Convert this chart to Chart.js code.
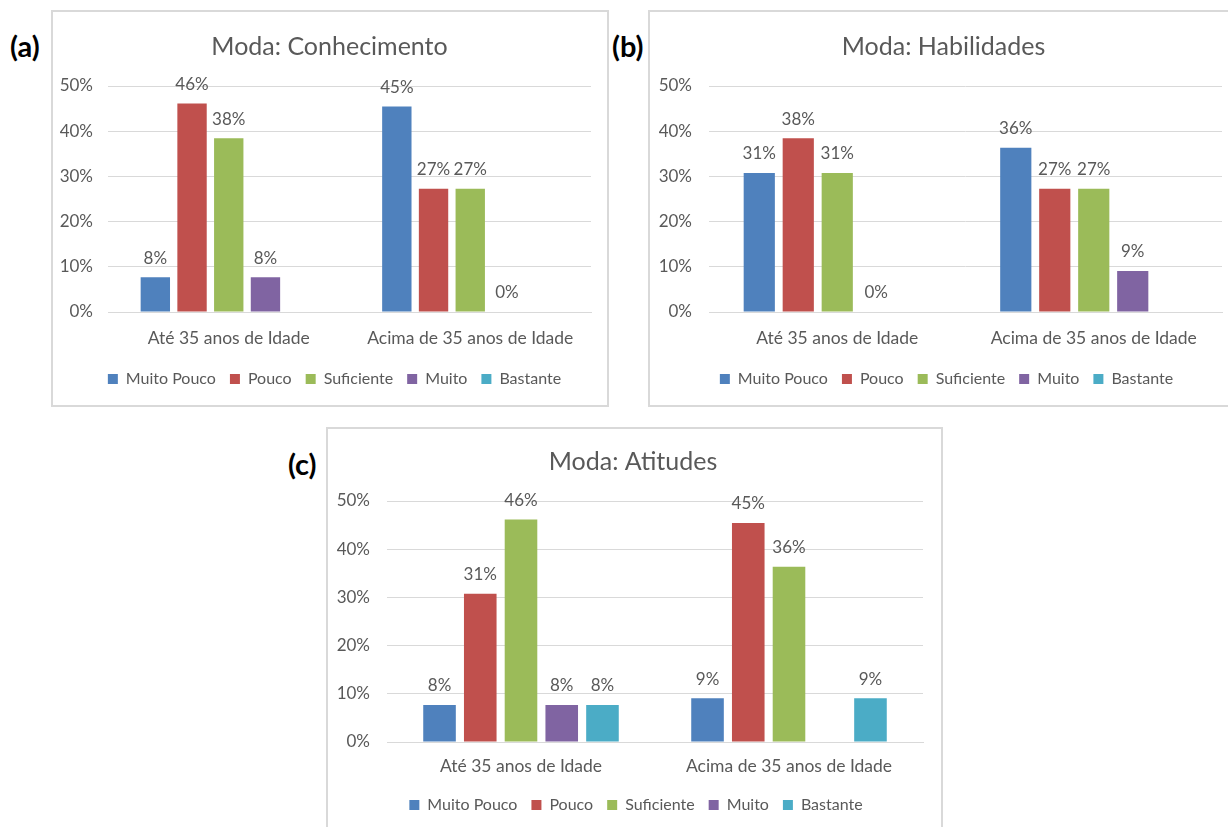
<!DOCTYPE html>
<html>
<head>
<meta charset="utf-8">
<script src="https://cdn.jsdelivr.net/npm/chart.js@4.4.0/dist/chart.umd.min.js"></script>
<style>
  body { margin: 0; background: #fff; width: 1228px; height: 827px; overflow: hidden; position: relative; font-family: Lato, "Open Sans", sans-serif; }
  .box { position: absolute; border: 2px solid #d9d9d9; box-sizing: border-box; background: #fff; }
  .tag { position: absolute; font-size: 29px; font-weight: bold; color: #000; font-family: Lato, "Open Sans", sans-serif; }
</style>
</head>
<body>
<div class="box" style="left:51px; top:10px; width:558px; height:397px;"><canvas id="chartA"></canvas></div>
<div class="box" style="left:648px; top:10px; width:592px; height:397px;"><canvas id="chartB"></canvas></div>
<div class="box" style="left:326px; top:427px; width:617px; height:406px;"><canvas id="chartC"></canvas></div>
<div class="tag" style="left:10px; top:28px;">(a)</div>
<div class="tag" style="left:612px; top:28px;">(b)</div>
<div class="tag" style="left:288px; top:446px;">(c)</div>
<script>
// categories and series, values in percent (null = no bar, no label)
const groups = ['Até 35 anos de Idade', 'Acima de 35 anos de Idade'];
const levels = ['Muito Pouco', 'Pouco', 'Suficiente', 'Muito', 'Bastante'];
const levelColors = ['#4f81bd', '#c0504d', '#9bbb59', '#8064a2', '#4bacc6'];
const yTicks = [0, 10, 20, 30, 40, 50];

// [Até, Acima] for each level
const conhecimento = {
  muitoPouco: [7.69, 45.45],
  pouco: [46.15, 27.27],
  suficiente: [38.46, 27.27],
  muito: [7.69, 0],
  bastante: [null, null]
};
const habilidades = {
  muitoPouco: [30.77, 36.36],
  pouco: [38.46, 27.27],
  suficiente: [30.77, 27.27],
  muito: [0, 9.09],
  bastante: [null, null]
};
const atitudes = {
  muitoPouco: [7.69, 9.09],
  pouco: [30.77, 45.45],
  suficiente: [46.15, 36.36],
  muito: [7.69, null],
  bastante: [7.69, 9.09]
};

const textColor = '#595959';
const fontFamily = 'Lato, "Open Sans", sans-serif';

// draws the "46%" labels on top of each bar
const valueLabels = {
  id: 'valueLabels',
  afterDatasetsDraw(chart) {
    const ctx = chart.ctx;
    ctx.save();
    ctx.font = '17px ' + fontFamily;
    ctx.fillStyle = textColor;
    ctx.textAlign = 'center';
    ctx.textBaseline = 'middle';
    chart.data.datasets.forEach((ds, i) => {
      const meta = chart.getDatasetMeta(i);
      meta.data.forEach((bar, j) => {
        const v = ds.data[j];
        if (v === null || v === undefined) return;
        ctx.fillText(Math.round(v) + '%', bar.x, bar.y - 19);
      });
    });
    ctx.restore();
  }
};

function makeChart(id, title, series, pad) {
  const keys = ['muitoPouco', 'pouco', 'suficiente', 'muito', 'bastante'];
  const datasets = keys.map((k, i) => ({
    label: levels[i],
    data: series[k],
    backgroundColor: levelColors[i],
    borderWidth: 0,
    categoryPercentage: 0.76,
    barPercentage: 0.8
  }));
  // title and legend sit a bit right of the plot centre in the original
  const nudge = {
    id: 'nudge',
    afterLayout(chart) {
      if (chart.titleBlock) {
        chart.titleBlock.left += pad.titleDx;
        chart.titleBlock.right += pad.titleDx;
      }
      if (chart.legend) {
        chart.legend.left += pad.legendDx;
        chart.legend.right += pad.legendDx;
      }
    }
  };
  return new Chart(document.getElementById(id), {
    type: 'bar',
    data: { labels: groups, datasets: datasets },
    plugins: [valueLabels, nudge],
    options: {
      responsive: true,
      maintainAspectRatio: false,
      animation: false,
      layout: { padding: { left: pad.left, right: pad.right, top: 6, bottom: 8 } },
      plugins: {
        title: {
          display: true,
          text: title,
          color: textColor,
          font: { family: fontFamily, size: 25, weight: 'normal' },
          padding: { top: pad.titleTop, bottom: 24 }
        },
        legend: {
          position: 'bottom',
          labels: {
            color: textColor,
            font: { family: fontFamily, size: 16 },
            boxWidth: 10,
            boxHeight: 10,
            padding: 14
          }
        },
        tooltip: { enabled: false }
      },
      scales: {
        x: {
          grid: { display: false },
          border: { color: '#d9d9d9' },
          ticks: { color: textColor, font: { family: fontFamily, size: 17.5 }, padding: pad.xTick }
        },
        y: {
          min: yTicks[0],
          max: yTicks[yTicks.length - 1],
          afterBuildTicks: (axis) => { axis.ticks = yTicks.map((v) => ({ value: v })); },
          afterFit: (axis) => { axis.width = pad.axisWidth; },
          grid: { color: '#d9d9d9', drawTicks: false },
          border: { display: false },
          ticks: {
            color: textColor,
            font: { family: fontFamily, size: 17 },
            padding: pad.yTick,
            callback: (v) => v + '%'
          }
        }
      }
    }
  });
}

makeChart('chartA', 'Moda: Conhecimento', conhecimento,
  { left: 7, right: 16, axisWidth: 48, yTick: 15, xTick: 8, titleTop: 14, titleDx: 4, legendDx: 9 });
makeChart('chartB', 'Moda: Habilidades', habilidades,
  { left: 9, right: 16, axisWidth: 50, yTick: 17, xTick: 8, titleTop: 14, titleDx: 3, legendDx: 6 });
makeChart('chartC', 'Moda: Atitudes', atitudes,
  { left: 9, right: 18, axisWidth: 50, yTick: 17, xTick: 6, titleTop: 12, titleDx: 3, legendDx: 6 });
</script>
</body>
</html>
